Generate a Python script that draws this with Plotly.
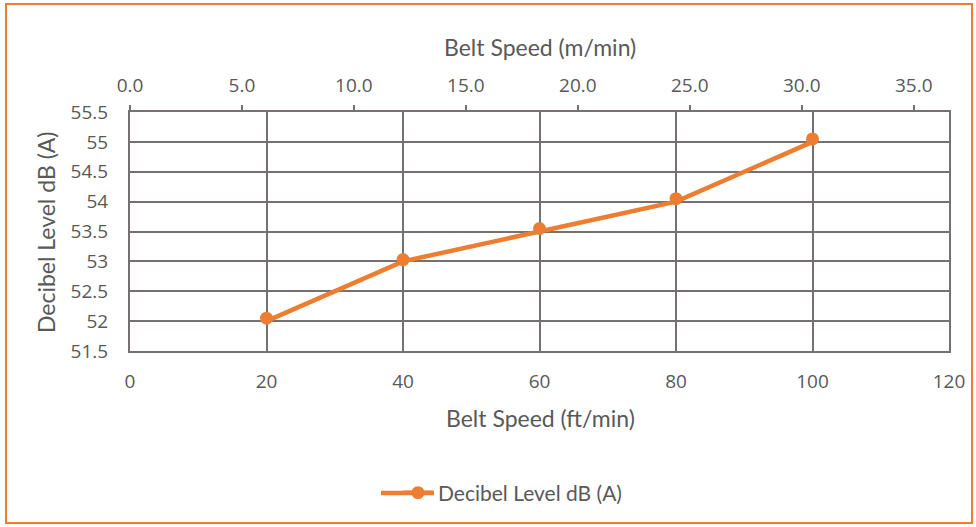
import plotly.graph_objects as go

# Belt speed vs decibel level
speed_ft = [20, 40, 60, 80, 100]
speed_m = [6.1, 12.2, 18.3, 24.4, 30.5]
db_marked = [52.05, 53.03, 53.55, 54.05, 55.05]
db_line = [52.0, 53.0, 53.5, 54.0, 55.0]

orange = "#ED7D31"
grid = "#767171"
txt = "#595959"

fig = go.Figure()

# m/min series sits under the ft/min one (x = top axis, x2 = bottom axis)
fig.add_trace(go.Scatter(
    x=speed_m, y=db_line, xaxis="x", mode="lines",
    line=dict(color="#5B9BD5", width=3), showlegend=False, hoverinfo="skip"
))
fig.add_trace(go.Scatter(
    x=speed_ft, y=db_line, xaxis="x2", mode="lines",
    line=dict(color=orange, width=4.5), showlegend=False
))
fig.add_trace(go.Scatter(
    x=speed_ft, y=db_marked, xaxis="x2", mode="markers",
    marker=dict(color=orange, size=13), showlegend=False
))
# legend entry
fig.add_trace(go.Scatter(
    x=[None], y=[None], xaxis="x2", mode="lines+markers",
    name="Decibel Level dB (A)",
    line=dict(color=orange, width=4.5),
    marker=dict(color=orange, size=13)
))

tick_font = dict(family="Open Sans", size=19, color=txt)
title_font = dict(family="Lato", size=23, color=txt)

# legend placement in pixels -> paper coords
leg_y = (351 - 493) / 239

fig.update_layout(
    width=976, height=527,
    margin=dict(l=130, r=27, t=112, b=176),
    paper_bgcolor="white", plot_bgcolor="white",
    xaxis=dict(
        range=[0, 36.576], tick0=0, dtick=5, tickformat=".1f",
        side="top", showgrid=False, zeroline=False,
        ticks="outside", ticklen=6, tickwidth=2, tickcolor=grid,
        ticklabelstandoff=5, tickfont=tick_font,
    ),
    xaxis2=dict(
        range=[0, 120], tick0=0, dtick=20,
        overlaying="x", side="bottom",
        showgrid=True, gridcolor=grid, gridwidth=2,
        showline=True, linecolor=grid, linewidth=2, mirror=True,
        zeroline=False, ticks="", ticklabelstandoff=12,
        tickfont=tick_font,
    ),
    yaxis=dict(
        range=[51.5, 55.5], tick0=51.5, dtick=0.5,
        showgrid=True, gridcolor=grid, gridwidth=2,
        showline=True, linecolor=grid, linewidth=2, mirror=True,
        zeroline=False, ticks="", ticklabelstandoff=16,
        tickfont=tick_font,
    ),
    showlegend=True,
    legend=dict(
        orientation="h", x=(398 - 130) / 819, xanchor="left",
        y=leg_y, yanchor="middle",
        font=dict(family="Lato", size=21, color=txt),
        bgcolor="rgba(0,0,0,0)",
    ),
    annotations=[
        dict(text="Belt Speed (ft/min)", xref="paper", yref="paper",
             x=(540 - 130) / 819, y=(351 - 418) / 239, showarrow=False,
             xanchor="center", yanchor="middle", font=title_font),
        dict(text="Belt Speed (m/min)", xref="paper", yref="paper",
             x=(540 - 130) / 819, y=(351 - 47) / 239, showarrow=False,
             xanchor="center", yanchor="middle", font=title_font),
        dict(text="Decibel Level dB (A)", xref="paper", yref="paper",
             x=(46 - 130) / 819, y=(351 - 232) / 239, showarrow=False,
             textangle=-90, xanchor="center", yanchor="middle",
             font=title_font),
    ],
    shapes=[
        dict(type="rect", xref="paper", yref="paper",
             x0=(6 - 130) / 819, x1=(972 - 130) / 819,
             y0=(351 - 523) / 239, y1=(351 - 4) / 239,
             line=dict(color=orange, width=2), layer="below"),
        # stretch the legend swatch line like Excel's longer sample
        dict(type="line", xref="paper", yref="paper",
             x0=(381 - 130) / 819, x1=(434 - 130) / 819,
             y0=leg_y, y1=leg_y,
             line=dict(color=orange, width=4.5), layer="below"),
    ],
)

fig.write_html("out.html", config={"displayModeBar": False},
               post_script="document.body.style.margin='0';")
